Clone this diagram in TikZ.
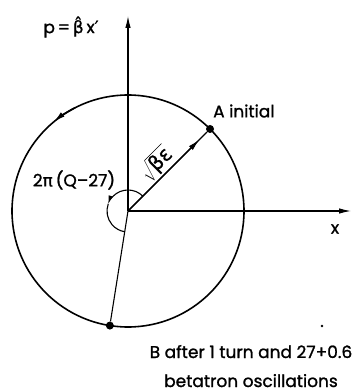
\documentclass[tikz,border=0pt]{standalone}
\usepackage{fontspec}
\setmainfont{Poppins}[FakeBold=1.2]
\newfontfamily\greek{DejaVu Sans}[FakeBold=0.6]
\usetikzlibrary{arrows.meta,calc}
\begin{document}
\begin{tikzpicture}[x=1pt,y=1pt,
  axis/.style={line width=1.1pt},
  orbit/.style={line width=1.6pt},
  tip/.style={-{Latex[length=12pt,width=5.5pt]}},
  smalltip/.style={-{Latex[length=9pt,width=4.5pt]}},
  pt/.style={circle,fill=black,inner sep=0pt,minimum size=8pt},
  lbl/.style={inner sep=0pt,font=\fontsize{17}{20}\selectfont}]
\useasboundingbox (0,0) rectangle (361,392);
\coordinate (O) at (128,181);
\coordinate (ytop) at (128,376);
\coordinate (xend) at (351,181);
% axes
\draw[axis,tip] (O) -- (ytop);
\draw[axis,tip] (O) -- (xend);
% orbit
\draw[orbit] (O) circle (116);
\draw[orbit,tip] (O) ++(117:116) arc (117:130:116);
% points
\node[pt] (A) at ($(O)+(45:116)$) {};
\node[pt] (B) at ($(O)+(261:116)$) {};
\draw[axis] (O) -- (A);
\draw[axis,tip] (O) -- ($(O)!0.87!(A)$);
\draw[axis] (O) -- (B);
% phase angle arc
\draw[axis,smalltip] (O) ++(45:21) arc (45:162:21);
\draw[axis] (O) ++(160:21) arc (160:261:21);
% labels
\node[lbl] (plbl) at (71,365) {p\,=\,{\greek β̂}\,x{\greek ′}};
\node[lbl] (xlbl) at (335,163) {x};
\node[lbl,anchor=west] (Alab) at (213,281) {A initial};
\node[lbl] (ang) at (74,212) {2{\greek π}\,(Q–27)};
\node[lbl,rotate=45,anchor=south,inner sep=2pt,scale=1.2] (rad) at ($(O)!0.46!(A)$) {$\sqrt{\hbox{\greek βε}}$};
\node[lbl,anchor=base] (b1) at (251,34) {B after 1 turn and 27+0.6};
\node[lbl,anchor=base] (b2) at (251,5) {betatron oscillations};
\fill (322,66) circle (1.3);
\end{tikzpicture}
\end{document}
